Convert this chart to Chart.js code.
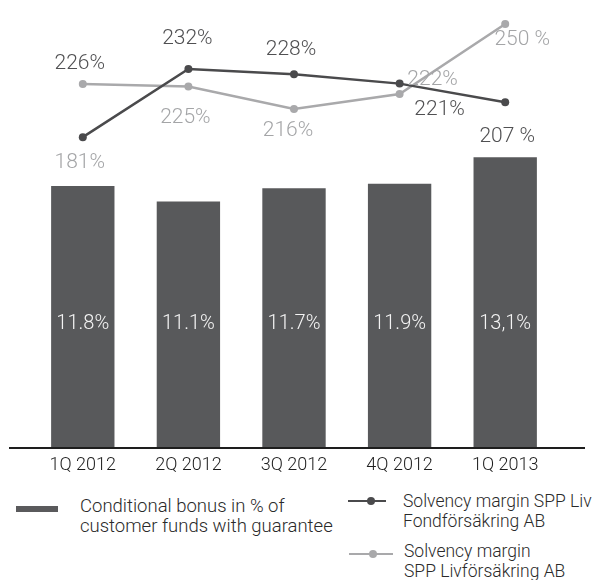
<!DOCTYPE html>
<html>
<head>
    <title>Solvency margin</title>
    <script src="https://cdn.jsdelivr.net/npm/chart.js@4"></script>
    <style type="text/css">
        html, body { margin: 0; padding: 0; background: #ffffff; }
        #wrap { position: relative; width: 596px; height: 580px; font-family: Roboto, sans-serif; font-weight: 300; color: #2a2a2a; }
        canvas { position: absolute; left: 0; top: 0; }
        .txt { position: absolute; line-height: 20px; white-space: nowrap; }
        .swatch { position: absolute; left: 16px; top: 506px; width: 42px; height: 6px; background: #5a5a5c; }
        .mk { position: absolute; height: 2px; }
        .dot { position: absolute; width: 8px; height: 8px; border-radius: 50%; }
    </style>
</head>
<body>
<div id="wrap">
    <canvas id="chart" width="596" height="488"></canvas>

    <div class="swatch"></div>
    <div class="txt" style="left: 80px; top: 496px; font-size: 18.5px;">Conditional bonus in % of<br>customer funds with guarantee</div>

    <div class="mk" style="left: 348px; top: 500px; width: 38px; background: #4a4a4c;"></div>
    <div class="dot" style="left: 367px; top: 497px; background: #4a4a4c;"></div>
    <div class="txt" style="left: 403px; top: 491px; font-size: 17.5px;">Solvency margin SPP Liv<br>Fondförsäkring AB</div>

    <div class="mk" style="left: 349px; top: 553px; width: 44px; background: #a9a9ab;"></div>
    <div class="dot" style="left: 369px; top: 550px; background: #a9a9ab;"></div>
    <div class="txt" style="left: 404px; top: 542px; font-size: 17.5px; line-height: 19.5px;">Solvency margin<br>SPP Livförsäkring AB</div>
</div>

<script>
    const categories = ['1Q 2012', '2Q 2012', '3Q 2012', '4Q 2012', '1Q 2013'];
    const bonusValues = [11.8, 11.1, 11.7, 11.9, 13.1];
    const bonusLabels = ['11.8%', '11.1%', '11.7%', '11.9%', '13,1%'];
    const fondValues = [181, 232, 228, 221, 207];
    const fondLabels = ['181%', '232%', '228%', '221%', '207 %'];
    const livValues = [226, 225, 216, 222, 250];
    const livLabels = ['226%', '225%', '216%', '222%', '250 %'];

    const DARK = '#4a4a4c';
    const LIGHT = '#a9a9ab';
    const DARK_TEXT = '#505052';
    const LIGHT_TEXT = '#a4a5a7';

    // text placement relative to each point, as in the original picture
    const pointText = {
        0: { texts: fondLabels, colors: [LIGHT_TEXT, DARK_TEXT, DARK_TEXT, DARK_TEXT, DARK_TEXT],
             offsets: [[-3, 26], [-1, -30], [-3, -25], [40, 26], [2, 34]] },
        1: { texts: livLabels, colors: [DARK_TEXT, LIGHT_TEXT, LIGHT_TEXT, LIGHT_TEXT, LIGHT_TEXT],
             offsets: [[-3, -20], [-3, 31], [-6, 22], [33, -14], [17, 16]] }
    };

    const labelsPlugin = {
        id: 'labels',
        afterDatasetsDraw(chart) {
            const ctx = chart.ctx;
            const yBar = chart.scales.y;
            ctx.save();
            ctx.textAlign = 'center';
            ctx.textBaseline = 'middle';

            // base line
            let y0 = yBar.getPixelForValue(0);
            ctx.strokeStyle = '#1e1e1e';
            ctx.lineWidth = 2;
            ctx.beginPath();
            ctx.moveTo(9, y0);
            ctx.lineTo(585, y0);
            ctx.stroke();

            // bar values
            ctx.font = '300 20px Roboto';
            ctx.fillStyle = '#f4f4f4';
            let barMeta = chart.getDatasetMeta(2);
            barMeta.data.forEach(function(bar, i) {
                ctx.fillText(bonusLabels[i], bar.x, yBar.getPixelForValue(5.6));
            });

            // line values
            ctx.font = '300 21px Roboto';
            for (let d = 0; d < 2; d++) {
                let meta = chart.getDatasetMeta(d);
                let cfg = pointText[d];
                meta.data.forEach(function(pt, i) {
                    ctx.fillStyle = cfg.colors[i];
                    ctx.fillText(cfg.texts[i], pt.x + cfg.offsets[i][0], pt.y + cfg.offsets[i][1]);
                });
            }
            ctx.restore();
        }
    };

    new Chart(document.getElementById('chart').getContext('2d'), {
        type: 'bar',
        data: {
            labels: categories,
            datasets: [{
                type: 'line',
                label: 'Solvency margin SPP Liv Fondförsäkring AB',
                data: fondValues,
                yAxisID: 'yFond',
                borderColor: DARK,
                backgroundColor: DARK,
                borderWidth: 2.5,
                pointRadius: 4,
                pointBackgroundColor: DARK,
                pointBorderWidth: 0,
                tension: 0,
                order: 0
            }, {
                type: 'line',
                label: 'Solvency margin SPP Livförsäkring AB',
                data: livValues,
                yAxisID: 'yLiv',
                borderColor: LIGHT,
                backgroundColor: LIGHT,
                borderWidth: 2.5,
                pointRadius: 4,
                pointBackgroundColor: LIGHT,
                pointBorderWidth: 0,
                tension: 0,
                order: 1
            }, {
                label: 'Conditional bonus in % of customer funds with guarantee',
                data: bonusValues,
                yAxisID: 'y',
                backgroundColor: '#58595b',
                barPercentage: 0.6,
                categoryPercentage: 1.0,
                order: 2
            }]
        },
        options: {
            responsive: false,
            animation: false,
            layout: { padding: { left: 30, right: 38, top: 0, bottom: 4.4 } },
            plugins: { legend: { display: false }, tooltip: { enabled: false } },
            scales: {
                x: {
                    grid: { display: false, drawTicks: false },
                    border: { display: false },
                    ticks: { color: '#1e1e1e', padding: 7, font: { family: 'Roboto', size: 18, weight: 300 } }
                },
                y: { display: false, min: 0, max: 20 },
                yFond: { display: false, min: -51.3, max: 280.5 },
                yLiv: { display: false, min: 80.3, max: 258 }
            }
        },
        plugins: [labelsPlugin]
    });
</script>
</body>
</html>
